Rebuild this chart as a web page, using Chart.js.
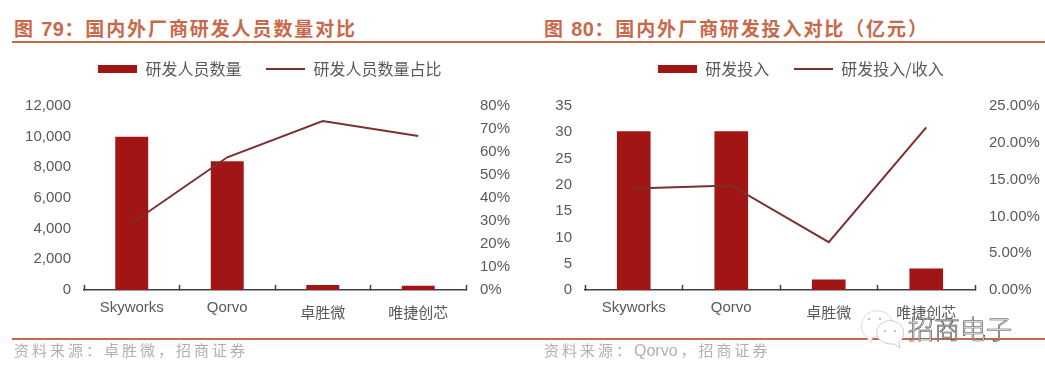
<!DOCTYPE html>
<html>
<head>
<meta charset="utf-8">
<script src="https://cdn.jsdelivr.net/npm/chart.js@4"></script>
<style>
  html, body { margin: 0; padding: 0; background: #fff; }
  body { position: relative; width: 1045px; height: 374px; overflow: hidden; font-family: "Noto Sans CJK SC", sans-serif; }
  .box { position: absolute; top: 36px; width: 520px; height: 304px; }
  .title { position: absolute; top: 15px; font-size: 19px; line-height: 26px; font-weight: 700; color: #c8694b; letter-spacing: 1.9px; white-space: nowrap; }
  .title b { font-family: "Liberation Sans"; font-size: 20px; letter-spacing: 0.5px; }
  .rule { position: absolute; left: 12px; width: 1033px; height: 2px; background: #c8694b; }
  .source { position: absolute; top: 339px; font-size: 15px; line-height: 22px; color: #b0b0b0; letter-spacing: 3px; white-space: nowrap; }
  .source span { font-family: "Liberation Sans"; font-size: 16px; letter-spacing: 0; margin-right: 3px; }
  .mark { position: absolute; left: 908px; top: 310px; font-size: 26px; font-weight: 300; line-height: 36px; color: #fff; -webkit-text-stroke: 0.6px #444; white-space: nowrap; }
  .wechat { position: absolute; left: 858px; top: 305px; }
</style>
</head>
<body>
<div class="title" style="left:14px">图 <b>79</b>：国内外厂商研发人员数量对比</div>
<div class="rule" style="top:41px"></div>
<div class="title" style="left:544px">图 <b>80</b>：国内外厂商研发投入对比（亿元）</div>

<div class="box" style="left:10px"><canvas id="people-chart"></canvas></div>
<div class="box" style="left:541px"><canvas id="invest-chart"></canvas></div>

<div class="rule" style="top:338px"></div>
<div class="source" style="left:14px">资料来源：卓胜微，招商证券</div>
<div class="source" style="left:544px">资料来源：<span>Qorvo</span>，招商证券</div>
<svg class="wechat" width="50" height="46" fill="#fff" stroke="#dcdcdc" stroke-width="1">
  <path d="M8 31 C1 27 1 9 16 6 C29 4 38 14 32 25 L14 33 L13 38 Z"/>
  <path d="M36 39 C22 40 15 30 21 21 C27 13 42 14 45 24 C47 30 44 35 41 37 L42 43 Z" stroke="#cccccc"/>
  <g fill="#aaa" stroke="none"><circle cx="11" cy="14" r="1"/><circle cx="22" cy="14" r="1"/><circle cx="27" cy="26" r="1"/><circle cx="37" cy="26" r="1"/></g>
</svg>
<div class="mark">招商电子</div>

<script>
const companies = ['Skyworks', 'Qorvo', '卓胜微', '唯捷创芯'];

const staffCount = [10000, 8400, 320, 280];
const staffShare = [29, 57.7, 73.5, 67];

const investAmount = [30.2, 30.2, 2.0, 4.1];
const investRatio = [13.8, 14.2, 6.5, 22.1];

const barColor = '#a21515';
const lineColor = '#7b3030';
const textColor = '#595959';

function legendSwatch(w, h, color) {
    const c = document.createElement('canvas');
    c.width = w;
    c.height = h;
    const g = c.getContext('2d');
    g.fillStyle = color;
    g.fillRect(0, 0, w, h);
    return c;
}

const barSwatch = legendSwatch(39, 8, barColor);
const lineSwatch = legendSwatch(39, 2, lineColor);

// pushes the plot down a little from the legend
const legendGap = {
    id: 'legendGap',
    beforeInit(chart) {
        const fit = chart.legend.fit;
        chart.legend.fit = function () {
            fit.call(this);
            this.height += 19;
        };
    }
};

function makeChart(canvas, o) {
    new Chart(canvas.getContext('2d'), {
        plugins: [legendGap],
        data: {
            labels: companies,
            datasets: [
                {
                    type: 'line',
                    label: o.lineLabel,
                    data: o.lineData,
                    yAxisID: 'y2',
                    borderColor: lineColor,
                    borderWidth: 2,
                    pointRadius: 0,
                    tension: 0
                },
                {
                    type: 'bar',
                    label: o.barLabel,
                    data: o.barData,
                    yAxisID: 'y',
                    backgroundColor: barColor,
                    categoryPercentage: 0.345,
                    barPercentage: 1
                }
            ]
        },
        options: {
            responsive: true,
            maintainAspectRatio: false,
            animation: false,
            layout: { padding: 0 },
            plugins: {
                tooltip: { enabled: false },
                legend: {
                    position: 'top',
                    reverse: true,
                    labels: {
                        color: textColor,
                        font: { family: '"Noto Sans CJK SC"', size: 16 },
                        usePointStyle: true,
                        pointStyleWidth: 39,
                        boxHeight: 8,
                        padding: 25,
                        generateLabels(chart) {
                            const items = Chart.defaults.plugins.legend.labels.generateLabels(chart);
                            items.forEach(it => { it.pointStyle = it.datasetIndex === 1 ? barSwatch : lineSwatch; });
                            return items;
                        }
                    }
                }
            },
            scales: {
                x: {
                    offset: true,
                    border: { display: true, color: '#404040', width: 1.5 },
                    grid: { drawOnChartArea: false, offset: true, tickLength: -5, tickColor: '#404040', tickWidth: 1.5 },
                    ticks: {
                        color: textColor,
                        padding: 14,
                        maxRotation: 0,
                        autoSkip: false,
                        font: c => ({
                            family: c.index >= 2 ? '"Noto Sans CJK SC"' : '"Liberation Sans"',
                            size: 15,
                            lineHeight: c.index >= 2 ? 1.8 : 1.2
                        })
                    },
                    afterFit: s => { s.height = 50; }
                },
                y: {
                    position: 'left',
                    min: 0,
                    max: o.barMax,
                    border: { display: false },
                    grid: { display: false },
                    ticks: {
                        stepSize: o.barStep,
                        color: textColor,
                        padding: 5,
                        font: { family: '"Liberation Sans"', size: 15 },
                        callback: v => v.toLocaleString('en-US')
                    },
                    afterFit: s => { s.width = o.leftWidth; }
                },
                y2: {
                    position: 'right',
                    min: 0,
                    max: o.lineMax,
                    border: { display: false },
                    grid: { display: false },
                    ticks: {
                        stepSize: o.lineStep,
                        color: textColor,
                        padding: 6,
                        font: { family: '"Liberation Sans"', size: 15 },
                        callback: v => v.toFixed(o.decimals) + '%'
                    },
                    afterFit: s => { s.width = o.rightWidth; }
                }
            }
        }
    });
}

makeChart(document.querySelector('#people-chart'), {
    barLabel: '研发人员数量',
    lineLabel: '研发人员数量占比',
    barData: staffCount,
    lineData: staffShare,
    barMax: 12000,
    barStep: 2000,
    lineMax: 80,
    lineStep: 10,
    decimals: 0,
    leftWidth: 74,
    rightWidth: 64
});

makeChart(document.querySelector('#invest-chart'), {
    barLabel: '研发投入',
    lineLabel: '研发投入/收入',
    barData: investAmount,
    lineData: investRatio,
    barMax: 35,
    barStep: 5,
    lineMax: 25,
    lineStep: 5,
    decimals: 2,
    leftWidth: 44,
    rightWidth: 86
});
</script>
</body>
</html>
